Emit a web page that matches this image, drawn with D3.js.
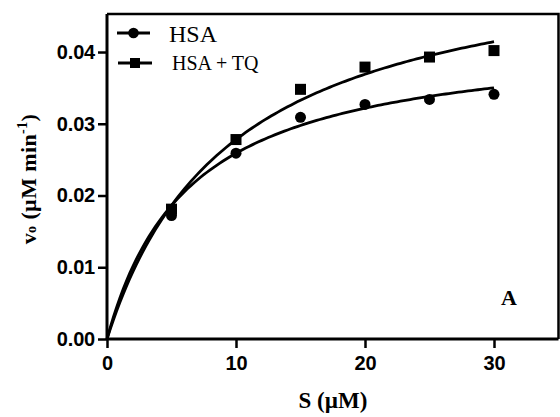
<!DOCTYPE html>
<html>
<head>
<meta charset="utf-8">
<script src="https://cdn.jsdelivr.net/npm/d3@7"></script>
<style>
  body { margin: 0; background: #fff; }
  svg { display: block; }
</style>
</head>
<body>
<div id="container"></div>
<script>
const width = 560, height = 417;

// measured points
const substrate = [5, 10, 15, 20, 25, 30];
const hsa = [0.0172, 0.0259, 0.0309, 0.0327, 0.0334, 0.0341];
const hsaTq = [0.0181, 0.0278, 0.0348, 0.0379, 0.0393, 0.0402];

// Michaelis-Menten fit parameters for the curves
const fitHsa = { vmax: 0.0425, km: 6.42 };
const fitHsaTq = { vmax: 0.0549, km: 9.75 };

const xTicks = [0, 10, 20, 30];
const yTicks = [0, 0.01, 0.02, 0.03, 0.04];

const x = d3.scaleLinear().domain([0, 35]).range([107, 558.5]);
const y = d3.scaleLinear().domain([0, 0.0453]).range([339, 14]);

const svg = d3.select("#container").append("svg")
    .attr("width", width)
    .attr("height", height);

// frame top + right
svg.append("path")
    .attr("d", `M${x(0)},${y(0.0453)}H${x(35)}V${y(0)}`)
    .attr("fill", "none")
    .attr("stroke", "#000")
    .attr("stroke-width", 2.5);

const xAxis = svg.append("g")
    .attr("transform", `translate(0,${y(0)})`)
    .call(d3.axisBottom(x).tickValues(xTicks).tickSize(9).tickPadding(8).tickFormat(d3.format("d")));
const yAxis = svg.append("g")
    .attr("transform", `translate(${x(0)},0)`)
    .call(d3.axisLeft(y).tickValues(yTicks).tickSize(9).tickPadding(3).tickFormat(d3.format(".2f")));

[xAxis, yAxis].forEach(g => {
    g.select(".domain").attr("stroke-width", 3);
    g.selectAll(".tick line").attr("stroke-width", 2.5);
    g.selectAll(".tick text")
        .attr("fill", "#000")
        .style("font-family", "'Liberation Sans', Arial, sans-serif")
        .style("font-weight", "bold")
        .style("font-size", "20px")
        .style("letter-spacing", "-0.2px");
});
xAxis.select(".domain").attr("d", `M${x(0)},0H${x(35)}`);
yAxis.select(".domain").attr("d", `M0,${y(0)}V${y(0.0453)}`);

// fitted curves
function curvePoints(fit) {
    return d3.range(0, 30.01, 0.25).map(s => [s, fit.vmax * s / (fit.km + s)]);
}
const line = d3.line().x(d => x(d[0])).y(d => y(d[1]));
[fitHsa, fitHsaTq].forEach(fit => {
    svg.append("path")
        .attr("d", line(curvePoints(fit)))
        .attr("fill", "none")
        .attr("stroke", "#000")
        .attr("stroke-width", 2.8);
});

// points
svg.selectAll(".pt-hsa")
    .data(substrate.map((s, i) => [s, hsa[i]]))
    .enter()
    .append("circle")
    .attr("class", "pt-hsa")
    .attr("cx", d => x(d[0]))
    .attr("cy", d => y(d[1]))
    .attr("r", 5.5)
    .attr("fill", "#000");

const sq = 11;
svg.selectAll(".pt-tq")
    .data(substrate.map((s, i) => [s, hsaTq[i]]))
    .enter()
    .append("rect")
    .attr("class", "pt-tq")
    .attr("x", d => x(d[0]) - sq / 2)
    .attr("y", d => y(d[1]) - sq / 2)
    .attr("width", sq)
    .attr("height", sq)
    .attr("fill", "#000");

// legend
const serif = "'Liberation Serif', 'Times New Roman', serif";
const lg1 = svg.append("g").attr("transform", "translate(117,33)");
lg1.append("line").attr("x1", 0).attr("x2", 33).attr("stroke", "#000").attr("stroke-width", 2.8);
lg1.append("circle").attr("cx", 16.5).attr("r", 5.3).attr("fill", "#000");
lg1.append("text").attr("x", 52).attr("y", 8.5)
    .style("font-family", serif).style("font-size", "24px").text("HSA");

const lg2 = svg.append("g").attr("transform", "translate(118,63)");
lg2.append("line").attr("x1", 0).attr("x2", 34).attr("stroke", "#000").attr("stroke-width", 2.8);
lg2.append("rect").attr("x", 12).attr("y", -5).attr("width", 10).attr("height", 10).attr("fill", "#000");
lg2.append("text").attr("x", 54).attr("y", 7)
    .style("font-family", serif).style("font-size", "20px").text("HSA + TQ");

// panel letter
svg.append("text").attr("x", 509).attr("y", 305).attr("text-anchor", "middle")
    .style("font-family", serif).style("font-weight", "bold").style("font-size", "22px").text("A");

// axis titles
svg.append("text").attr("x", 333).attr("y", 408).attr("text-anchor", "middle")
    .style("font-family", serif).style("font-weight", "bold").style("font-size", "23px").text("S (µM)");

const yt = svg.append("text")
    .attr("transform", "translate(36,179) rotate(-90)")
    .attr("text-anchor", "middle")
    .style("font-family", serif).style("font-weight", "bold").style("font-size", "22px")
    .style("letter-spacing", "0.4px");
yt.append("tspan").text("v");
yt.append("tspan").style("font-size", "14px").text("o");
yt.append("tspan").text(" (µM  min");
yt.append("tspan").attr("dy", -9).style("font-size", "14px").text("-1");
yt.append("tspan").attr("dy", 9).text(")");
</script>
</body>
</html>
